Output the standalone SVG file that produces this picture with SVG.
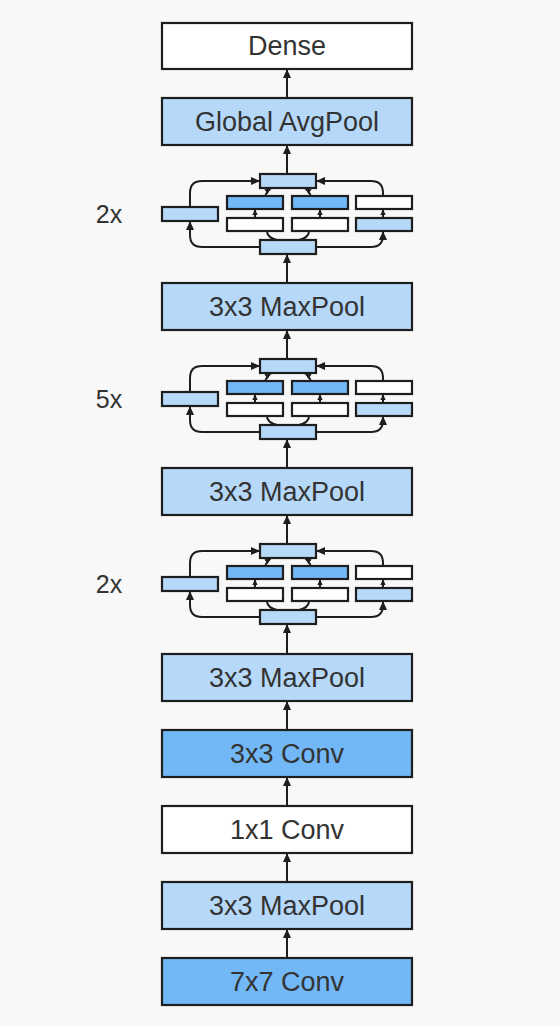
<svg xmlns="http://www.w3.org/2000/svg" width="560" height="1026" viewBox="0 0 560 1026">
<style>
.bg{fill:#f8f8f8}
.box{stroke:#1e1e1e;stroke-width:2.2}
.w{fill:#ffffff}
.l{fill:#b6d9fa}
.d{fill:#72b8f6}
.t{font-family:"Liberation Sans",Arial,sans-serif;font-size:27px;fill:#333333;text-anchor:middle}
.lab{font-family:"Liberation Sans",Arial,sans-serif;font-size:25px;fill:#333333;text-anchor:middle}
.c{fill:none;stroke:#1e1e1e;stroke-width:2}
.a{marker-end:url(#ah)}
.s{marker-end:url(#sh)}
</style>
<defs>
<marker id="ah" markerUnits="userSpaceOnUse" markerWidth="10" markerHeight="10" viewBox="0 0 10 10" refX="9" refY="5" orient="auto">
<path d="M0,1 L9,5 L0,9 Z" fill="#1e1e1e"/>
</marker>
<marker id="sh" markerUnits="userSpaceOnUse" markerWidth="7" markerHeight="7" viewBox="0 0 10 10" refX="9" refY="5" orient="auto">
<path d="M0,1 L9,5 L0,9 Z" fill="#1e1e1e"/>
</marker>
<g id="inc">
<rect class="box l" x="260" y="174" width="56" height="14"/>
<rect class="box d" x="227" y="196" width="56" height="13"/>
<rect class="box d" x="292" y="196" width="56" height="13"/>
<rect class="box w" x="356" y="196" width="56" height="13"/>
<rect class="box w" x="227" y="218" width="56" height="13"/>
<rect class="box w" x="292" y="218" width="56" height="13"/>
<rect class="box l" x="356" y="218" width="56" height="13"/>
<rect class="box l" x="162" y="207" width="56" height="14"/>
<rect class="box l" x="260" y="240" width="56" height="14"/>
<path class="c a" d="M190 207 V193 Q190 181 202 181 H260"/>
<path class="c a" d="M383 196 V193 Q383 181 371 181 H316"/>
<path class="c a" d="M260 247 H202 Q190 247 190 235 V221"/>
<path class="c a" d="M316 247 H371 Q383 247 383 235 V231"/>
<path class="c s" d="M383 218 V209"/>
<path class="c s" d="M255 218 V209"/>
<path class="c s" d="M320 218 V209"/>
<path class="c s" d="M265 196 Q267 191 271 188"/>
<path class="c s" d="M311 196 Q309 191 305 188"/>
<path class="c" d="M277 240 Q268 238 267 232"/>
<path class="c" d="M299 240 Q308 238 309 232"/>
</g>
</defs>
<rect class="bg" x="0" y="0" width="560" height="1026"/>
<g id="connectors">
<path class="c a" d="M287 98 V69"/>
<path class="c a" d="M287 174 V145"/>
<path class="c a" d="M287 283 V254"/>
<path class="c a" d="M287 359 V330"/>
<path class="c a" d="M287 468 V439"/>
<path class="c a" d="M287 544 V515"/>
<path class="c a" d="M287 653 V624"/>
<path class="c a" d="M287 730 V701"/>
<path class="c a" d="M287 806 V777"/>
<path class="c a" d="M287 882 V853"/>
<path class="c a" d="M287 958 V929"/>
</g>
<g id="dense"><rect class="box w" x="162" y="23" width="250" height="46"/><text class="t" x="287" y="55">Dense</text></g>
<g id="gap"><rect class="box l" x="162" y="98" width="250" height="47"/><text class="t" x="287" y="131">Global AvgPool</text></g>
<g id="inception1"><use href="#inc"/><text class="lab" x="109" y="223">2x</text></g>
<g id="maxpool3"><rect class="box l" x="162" y="283" width="250" height="47"/><text class="t" x="287" y="316">3x3 MaxPool</text></g>
<g id="inception2"><use href="#inc" y="185"/><text class="lab" x="109" y="408">5x</text></g>
<g id="maxpool2"><rect class="box l" x="162" y="468" width="250" height="47"/><text class="t" x="287" y="501">3x3 MaxPool</text></g>
<g id="inception3"><use href="#inc" y="370"/><text class="lab" x="109" y="593">2x</text></g>
<g id="maxpool1"><rect class="box l" x="162" y="654" width="250" height="47"/><text class="t" x="287" y="687">3x3 MaxPool</text></g>
<g id="conv3"><rect class="box d" x="162" y="730" width="250" height="47"/><text class="t" x="287" y="763">3x3 Conv</text></g>
<g id="conv1"><rect class="box w" x="162" y="806" width="250" height="47"/><text class="t" x="287" y="839">1x1 Conv</text></g>
<g id="maxpool0"><rect class="box l" x="162" y="882" width="250" height="47"/><text class="t" x="287" y="915">3x3 MaxPool</text></g>
<g id="conv7"><rect class="box d" x="162" y="958" width="250" height="47"/><text class="t" x="287" y="991">7x7 Conv</text></g>
</svg>
